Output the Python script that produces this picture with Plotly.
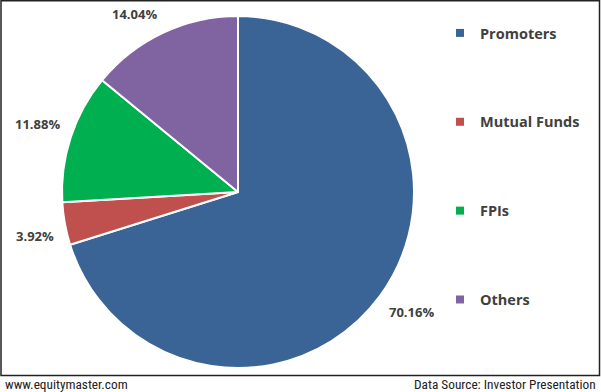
import math
import plotly.graph_objects as go

labels = ["Promoters", "Mutual Funds", "FPIs", "Others"]
values = [70.16, 3.92, 11.88, 14.04]
colors = ["#3A6496", "#C0504D", "#00B050", "#8064A2"]

W, H = 601, 392
cx, cy, r = 238, 192, 176

fig = go.Figure()
fig.add_trace(go.Pie(
    labels=labels, values=values, sort=False, direction="clockwise", rotation=0,
    marker=dict(colors=colors, line=dict(color="white", width=2)),
    textinfo="none", showlegend=False, hoverinfo="label+percent",
    domain=dict(x=[(cx - r) / W, (cx + r) / W], y=[1 - (cy + r) / H, 1 - (cy - r) / H]),
))

# legend entries via dummy traces
for lab, col in zip(labels, colors):
    fig.add_trace(go.Scatter(
        x=[None], y=[None], mode="markers", name=lab, legendgroup=lab,
        marker=dict(symbol="square", size=8, color=col),
    ))

# percentage labels placed outside slices at mid-angles (outside-end style)
total = sum(values)
cum = 0
R = r + 9
for v in values:
    mid = (cum + v / 2) / total * 2 * math.pi
    cum += v
    ux, uy = math.sin(mid), -math.cos(mid)
    x = cx + R * ux
    y = cy + R * uy
    fig.add_annotation(x=x / W, y=1 - y / H, xref="paper", yref="paper",
                       xanchor="left" if ux >= 0 else "right",
                       yanchor="top" if uy >= 0 else "bottom",
                       text=f"<b>{v:.2f}%</b>", showarrow=False,
                       font=dict(size=13, color="#404040", family="Open Sans, Lato, sans-serif"))

fig.add_shape(type="rect", xref="paper", yref="paper",
              x0=1 / W, x1=599.5 / W, y0=1 - 375.5 / H, y1=1 - 0.8 / H,
              line=dict(color="#222222", width=1.5))

foot_font = dict(size=13.3, color="#222222", family="Liberation Sans Narrow, Roboto Condensed, Roboto, sans-serif")
fig.add_annotation(x=3 / W, y=1 - 384 / H, xref="paper", yref="paper", xanchor="left", yanchor="middle",
                   text="www.equitymaster.com", showarrow=False, font=foot_font)
fig.add_annotation(x=598 / W, y=1 - 384 / H, xref="paper", yref="paper", xanchor="right", yanchor="middle",
                   text="Data Source: Investor Presentation", showarrow=False, font=foot_font)

fig.update_layout(
    width=W, height=H, margin=dict(l=0, r=0, t=0, b=0),
    paper_bgcolor="white", plot_bgcolor="white",
    xaxis=dict(visible=False), yaxis=dict(visible=False),
    legend=dict(x=440 / W, y=1 - 17 / H, xanchor="left", yanchor="top",
                tracegroupgap=67,
                font=dict(size=14.5, color="#404040", family="Open Sans, Lato, sans-serif", weight="bold"),
                bgcolor="rgba(0,0,0,0)"),
)

fig.write_html("out.html", config={"displayModeBar": False},
               post_script="document.body.style.margin='0';document.body.style.padding='0';")
